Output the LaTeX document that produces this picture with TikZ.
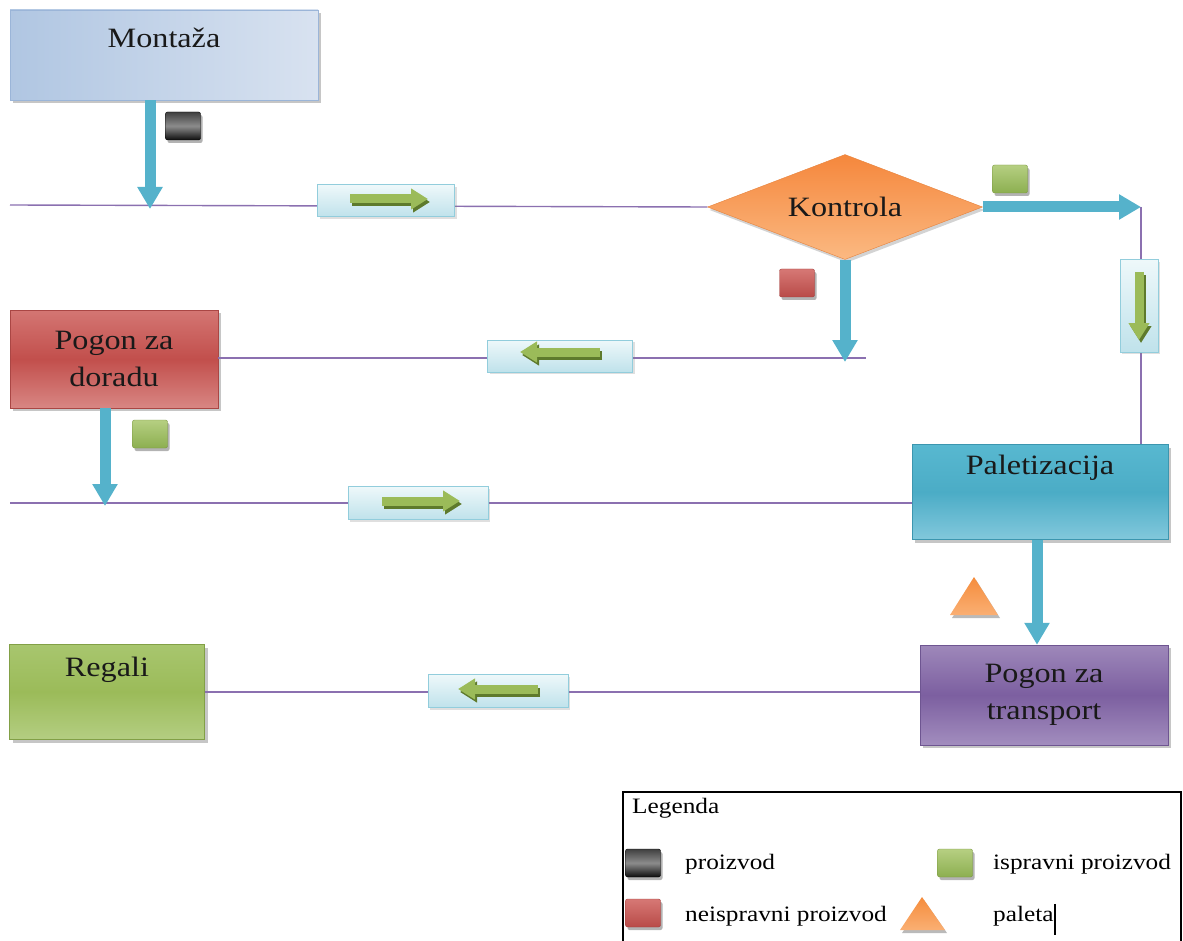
\documentclass[tikz,border=0pt]{standalone}
\usepackage{fontspec}
\setmainfont[FakeStretch=1.15]{Liberation Serif}
\usetikzlibrary{shapes.geometric,shadows,arrows.meta,calc}
\definecolor{lineC}{HTML}{8B70B0}
\definecolor{fatC}{HTML}{55B2CB}
\definecolor{fatD}{HTML}{3F98B0}
\definecolor{convD}{HTML}{92CDDC}
\definecolor{convT}{HTML}{EEF8FA}
\definecolor{convB}{HTML}{BFE2EB}
\definecolor{grA}{HTML}{9BBB59}
\definecolor{grD}{HTML}{5E7A2C}
\newcommand{\myconvarrow}[3]{%
  \draw[gshadow] ($(#1.center)+(#2)+(2,3)$) -- ($(#1.center)+(#3)+(2,3)$);
  \draw[garrow] ($(#1.center)+(#2)$) -- ($(#1.center)+(#3)$);}
\begin{document}
\begin{tikzpicture}[x=1pt,y=-1pt,
  box/.style={rectangle, inner sep=3pt, align=center, text=black!90,
    font=\fontsize{28}{37}\selectfont,
    drop shadow={shadow xshift=3pt,shadow yshift=-3pt,opacity=0.45}},
  conv/.style={rectangle, draw=convD, line width=1pt, top color=convT, bottom color=convB,
    drop shadow={shadow xshift=2pt,shadow yshift=-2pt,opacity=0.25}},
  flow/.style={draw=lineC, line width=1.4pt},
  fat/.style={draw=fatC, line width=11pt, -{Triangle[width=24pt,length=22pt]}},
  garrow/.style={draw=grA, line width=9pt, -{Triangle[width=20pt,length=17pt]}},
  gshadow/.style={draw=grD, line width=9pt, -{Triangle[width=20pt,length=17pt]}},
  tok/.style={rectangle, rounded corners=2pt, minimum width=35pt, minimum height=28pt, inner sep=0pt,
    drop shadow={shadow xshift=2pt,shadow yshift=-3pt,opacity=0.6}},
  legtxt/.style={anchor=west, inner sep=0pt, font=\fontsize{22}{26}\selectfont}
]
\useasboundingbox (0,0) rectangle (1183,941);

% ---- main boxes
\node[box, draw={rgb,255:red,155;green,181;blue,216}, left color={rgb,255:red,176;green,198;blue,226},
  right color={rgb,255:red,216;green,226;blue,240}, minimum width=308pt, minimum height=90pt] (mont) at (164,55) {};
\node[font=\fontsize{28}{34}\selectfont, text=black!90] (montt) at (164,38) {Montaža};

\node[diamond, shape aspect=3, draw={rgb,255:red,230;green,130;blue,60}, top color={rgb,255:red,245;green,135;blue,60},
  bottom color={rgb,255:red,251;green,185;blue,130}, minimum width=275pt, minimum height=105pt, inner sep=0pt,
  font=\fontsize{28}{34}\selectfont, text=black!90,
  drop shadow={shadow xshift=2pt,shadow yshift=-3pt,opacity=0.35}] (kon) at (845,207) {Kontrola};

\node[box, draw={rgb,255:red,170;green,70;blue,68}, top color={rgb,255:red,212;green,118;blue,115},
  bottom color={rgb,255:red,216;green,134;blue,131}, middle color={rgb,255:red,194;green,79;blue,76},
  minimum width=208pt, minimum height=98pt] (dor) at (114,359) {Pogon za\\doradu};

\node[box, draw={rgb,255:red,60;green,150;blue,175}, top color={rgb,255:red,88;green,184;blue,208},
  bottom color={rgb,255:red,130;green,200;blue,220}, middle color={rgb,255:red,75;green,172;blue,198},
  minimum width=256pt, minimum height=95pt] (pal) at (1040,492) {};
\node[font=\fontsize{28}{34}\selectfont, text=black!90] (palt) at (1040,468) {Paletizacija};

\node[box, draw={rgb,255:red,110;green,85;blue,145}, top color={rgb,255:red,158;green,136;blue,186},
  bottom color={rgb,255:red,162;green,141;blue,190}, middle color={rgb,255:red,124;green,95;blue,160},
  minimum width=248pt, minimum height=100pt] (tra) at (1044,695) {Pogon za\\transport};

\node[box, draw={rgb,255:red,130;green,160;blue,70}, top color={rgb,255:red,168;green,198;blue,110},
  bottom color={rgb,255:red,180;green,206;blue,130}, middle color={rgb,255:red,155;green,187;blue,89},
  minimum width=195pt, minimum height=95pt] (reg) at (107,692) {};
\node[font=\fontsize{28}{34}\selectfont, text=black!90] (regt) at (107,670) {Regali};

% ---- coordinates
\coordinate (l1s) at (10,205);
\coordinate (d1) at (150,209);
\coordinate (cr) at (1141,207);
\coordinate (l2e) at (866,358);
\coordinate (d2) at (845,362);
\coordinate (l3s) at (10,503);
\coordinate (d3) at (105,506);
\coordinate (mx) at (150,0);
\coordinate (dx) at (105,0);
\coordinate (px) at (1037,0);

% ---- flow lines
\draw[flow] (l1s) -- (kon.west);
\draw[flow] (cr) -- (pal.north -| cr);
\draw[flow] (dor.east |- l2e) -- (l2e);
\draw[flow] (l3s) -- (pal.west |- l3s);
\draw[flow] (reg.east |- 0,692) -- (tra.west |- 0,692);

% ---- conveyors
\node[conv, minimum width=137pt, minimum height=32pt] (c1) at (386,201) {};
\node[conv, minimum width=145pt, minimum height=32pt] (c2) at (560,356) {};
\node[conv, minimum width=140pt, minimum height=33pt] (c3) at (418,503) {};
\node[conv, minimum width=140pt, minimum height=33pt] (c4) at (498,691) {};
\node[conv, minimum width=38pt, minimum height=92pt] (cv) at (1139,306) {};
\myconvarrow{c1}{-36,-2}{42,-2}
\myconvarrow{c2}{40,-4}{-40,-4}
\myconvarrow{c3}{-36,-2}{42,-2}
\myconvarrow{c4}{40,-2}{-40,-2}
\myconvarrow{cv}{0,-34}{0,34}

% ---- fat arrows
\draw[fat] (mont.south -| mx) -- (d1);
\draw[fat] (kon.east) -- (cr);
\draw[fat] (kon.south) -- (d2);
\draw[fat] (dor.south -| dx) -- (d3);
\draw[fat] (pal.south -| px) -- (tra.north -| px);

% ---- tokens
\node[tok, draw=black, top color=black!75, bottom color=black!95, middle color=black!45] (tb) at (183,126) {};
\node[tok, draw={rgb,255:red,120;green,150;blue,60}, top color={rgb,255:red,182;green,207;blue,130}, bottom color={rgb,255:red,140;green,175;blue,80}] (tg1) at (1010,179) {};
\node[tok, draw={rgb,255:red,160;green,60;blue,58}, top color={rgb,255:red,214;green,120;blue,117}, bottom color={rgb,255:red,185;green,75;blue,72}] (tr) at (797,283) {};
\node[tok, draw={rgb,255:red,120;green,150;blue,60}, top color={rgb,255:red,182;green,207;blue,130}, bottom color={rgb,255:red,140;green,175;blue,80}] (tg2) at (150,434) {};
\fill[black!45,opacity=0.6] (952,618) -- (976,580) -- (1000,618) -- cycle;
\shade[top color={rgb,255:red,245;green,140;blue,60}, bottom color={rgb,255:red,250;green,175;blue,115}] (950,615) -- (974,577) -- (998,615) -- cycle;

% ---- legend
\draw[line width=1.6pt] (623,945) -- (623,792) -- (1181,792) -- (1181,945);
\node[legtxt] (lg) at (632,808) {Legenda};
\node[tok, draw=black, top color=black!75, bottom color=black!95, middle color=black!45] (lb) at (643,863) {};
\node[legtxt] (lbt) at (685,864) {proizvod};
\node[tok, draw={rgb,255:red,120;green,150;blue,60}, top color={rgb,255:red,182;green,207;blue,130}, bottom color={rgb,255:red,140;green,175;blue,80}] (lgr) at (955,863) {};
\node[legtxt] (lgrt) at (993,864) {ispravni proizvod};
\node[tok, draw={rgb,255:red,160;green,60;blue,58}, top color={rgb,255:red,214;green,120;blue,117}, bottom color={rgb,255:red,185;green,75;blue,72}] (lr) at (643,913) {};
\node[legtxt] (lrt) at (685,916) {neispravni proizvod};
\fill[black!45,opacity=0.6] (902,933) -- (924,900) -- (947,933) -- cycle;
\shade[top color={rgb,255:red,245;green,140;blue,60}, bottom color={rgb,255:red,250;green,175;blue,115}] (900,930) -- (922,897) -- (945,930) -- cycle;
\node[legtxt] (lpt) at (993,916) {paleta};
\draw[line width=1.5pt] (lpt.north east) ++(1,-2) -- ++(0,31);
\end{tikzpicture}
\end{document}
